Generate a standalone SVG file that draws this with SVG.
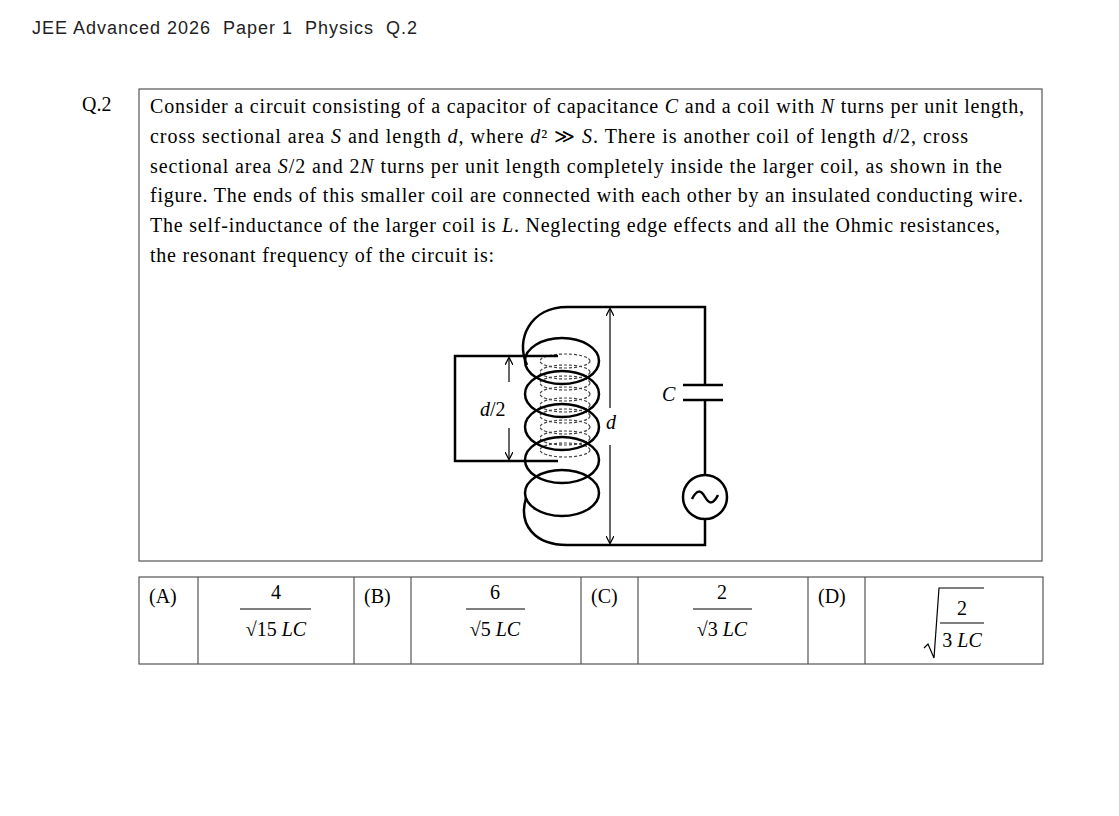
<svg xmlns="http://www.w3.org/2000/svg" width="1119" height="816" viewBox="0 0 1119 816">
<defs>
<marker id="ar" viewBox="0 0 10 10" refX="9" refY="5" markerWidth="8" markerHeight="8" orient="auto-start-reverse" markerUnits="userSpaceOnUse"><path d="M0,0 L10,5 L0,10" fill="none" stroke="#000" stroke-width="1.5"/></marker>
<style>
.t{font-family:"Liberation Serif",serif;font-size:20px;fill:#000}
.m{font-style:italic}
.h{font-family:"Liberation Sans",sans-serif;font-size:18px;fill:#222}
.box{fill:none;stroke:#555;stroke-width:1.2}
.w{fill:none;stroke:#000;stroke-width:2.5}
.thin{fill:none;stroke:#000;stroke-width:1.2}
.ds{fill:none;stroke:#444;stroke-width:1.2;stroke-dasharray:3,2}
.fr{font-family:"Liberation Serif",serif;font-size:20px;fill:#000;text-anchor:middle}
</style>
</defs>
<rect width="1119" height="816" fill="#fff"/>
<text class="h" x="32" y="34" textLength="385" lengthAdjust="spacing" xml:space="preserve">JEE Advanced 2026  Paper 1  Physics  Q.2</text>
<text class="t" x="82" y="111" font-size="21">Q.2</text>
<rect class="box" x="139" y="89" width="903" height="472"/>
<g id="question" class="t">
<text x="150" y="113" textLength="874" lengthAdjust="spacing">Consider a circuit consisting of a capacitor of capacitance <tspan class="m">C</tspan> and a coil with <tspan class="m">N</tspan> turns per unit length,</text>
<text x="150" y="143" textLength="818" lengthAdjust="spacing">cross sectional area <tspan class="m">S</tspan> and length <tspan class="m">d</tspan>, where <tspan class="m">d</tspan>² ≫ <tspan class="m">S</tspan>. There is another coil of length <tspan class="m">d</tspan>/2, cross</text>
<text x="150" y="173" textLength="852" lengthAdjust="spacing">sectional area <tspan class="m">S</tspan>/2 and 2<tspan class="m">N</tspan> turns per unit length completely inside the larger coil, as shown in the</text>
<text x="150" y="202" textLength="873" lengthAdjust="spacing">figure. The ends of this smaller coil are connected with each other by an insulated conducting wire.</text>
<text x="150" y="232" textLength="850" lengthAdjust="spacing">The self-inductance of the larger coil is <tspan class="m">L</tspan>. Neglecting edge effects and all the Ohmic resistances,</text>
<text x="150" y="262" textLength="344" lengthAdjust="spacing">the resonant frequency of the circuit is:</text>
</g>
<g id="inner-coil">
<ellipse class="ds" cx="565" cy="361" rx="25" ry="7"/>
<ellipse class="ds" cx="565" cy="372" rx="25" ry="7"/>
<ellipse class="ds" cx="565" cy="383" rx="25" ry="7"/>
<ellipse class="ds" cx="565" cy="394" rx="25" ry="7"/>
<ellipse class="ds" cx="565" cy="405" rx="25" ry="7"/>
<ellipse class="ds" cx="565" cy="416" rx="25" ry="7"/>
<ellipse class="ds" cx="565" cy="427" rx="25" ry="7"/>
<ellipse class="ds" cx="565" cy="438" rx="25" ry="7"/>
<ellipse class="ds" cx="565" cy="450" rx="25" ry="7"/>
<path class="w" d="M558,356 H455 V461 H558"/>
</g>
<g id="outer-coil">
<path class="w" d="M567,307 C530,307 515,340 527,365"/>
<ellipse class="w" cx="562" cy="361" rx="37" ry="23"/>
<ellipse class="w" cx="562" cy="394" rx="37" ry="23"/>
<ellipse class="w" cx="562" cy="427" rx="37" ry="23"/>
<ellipse class="w" cx="562" cy="460" rx="37" ry="23"/>
<ellipse class="w" cx="562" cy="493" rx="37" ry="23"/>
<path class="w" d="M526,498 C518,525 535,545 567,545"/>
</g>
<g id="circuit">
<path class="w" d="M567,307 H705 V385 M705,400 V475 M705,519 V545 H567"/>
<path class="w" d="M683,385 H723 M683,400 H723"/>
<circle class="w" cx="705" cy="497" r="22"/>
<path class="w" d="M692,499 C697,489 701,490 705,497 C709,504 713,505 718,495"/>
<text class="t m" x="662" y="401" font-size="18">C</text>
</g>
<g id="connectors">
<path class="thin" d="M610,309 V408" marker-start="url(#ar)"/>
<path class="thin" d="M610,445 V543" marker-end="url(#ar)"/>
<text class="t m" x="606" y="429" font-size="18">d</text>
<path class="thin" d="M509,358 V382" marker-start="url(#ar)"/>
<path class="thin" d="M509,428 V459" marker-end="url(#ar)"/>
<text class="t" x="480" y="416" font-size="18"><tspan class="m">d</tspan>/2</text>
</g>
<g id="options">
<rect class="box" x="139" y="577" width="904" height="87"/>
<path class="box" d="M198,577 V664 M354,577 V664 M411,577 V664 M581,577 V664 M638,577 V664 M808,577 V664 M865,577 V664"/>
<text class="t" x="149" y="603">(A)</text>
<text class="t" x="364" y="603">(B)</text>
<text class="t" x="591" y="603">(C)</text>
<text class="t" x="818" y="603">(D)</text>
<text class="fr" x="276" y="599">4</text>
<line x1="240" y1="609" x2="311" y2="609" stroke="#000" stroke-width="1.2"/>
<text class="fr" x="276" y="636">√15 <tspan class="m">LC</tspan></text>
<text class="fr" x="495" y="599">6</text>
<line x1="466" y1="609" x2="525" y2="609" stroke="#000" stroke-width="1.2"/>
<text class="fr" x="495" y="636">√5 <tspan class="m">LC</tspan></text>
<text class="fr" x="722" y="599">2</text>
<line x1="693" y1="609" x2="752" y2="609" stroke="#000" stroke-width="1.2"/>
<text class="fr" x="722" y="636">√3 <tspan class="m">LC</tspan></text>
<path class="thin" d="M924,648 L928,644 L934,658 L939,588 H984"/>
<text class="fr" x="962" y="615">2</text>
<line x1="940" y1="623" x2="984" y2="623" stroke="#000" stroke-width="1.2"/>
<text class="fr" x="962" y="647">3 <tspan class="m">LC</tspan></text>
</g>
</svg>
